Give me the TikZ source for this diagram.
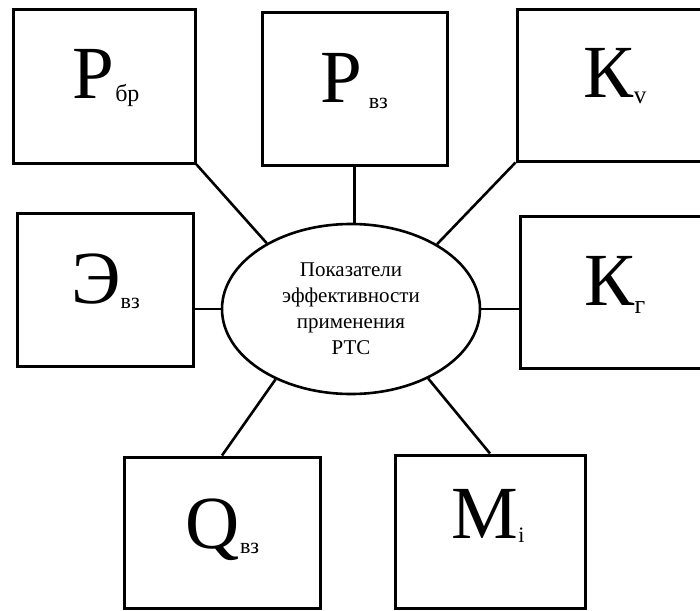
\documentclass[tikz,border=0pt]{standalone}
\usepackage{fontspec}
\setmainfont{Liberation Serif}
\usetikzlibrary{shapes.geometric}

% symbol with a lowered index: #1 symbol, #2 index, #3 index size, #4 drop, #5 gap
\newcommand{\idxsym}[5]{{\fontsize{75}{75}\selectfont #1}\kern#5\raisebox{-#4}{\fontsize{#3}{#3}\selectfont #2}}

\begin{document}
\begin{tikzpicture}[x=1pt,y=-1pt,
  box/.style={draw, line width=3pt, rectangle, inner sep=0pt},
  lbl/.style={inner sep=0pt, anchor=base},
  conn/.style={line width=2.6pt}]
  \useasboundingbox (0,0) rectangle (700,610);
  \clip (0,0) rectangle (700,610);

  % indicator boxes
  \node[box, minimum width=182pt, minimum height=153pt] (b1) at (104,86.5) {};
  \node[box, minimum width=185pt, minimum height=152pt] (b2) at (354.5,89) {};
  \node[box, minimum width=196pt, minimum height=151pt] (b3) at (615,85.5) {};
  \node[box, minimum width=176pt, minimum height=153pt] (b4) at (105,289.5) {};
  \node[box, minimum width=190pt, minimum height=152pt] (b5) at (615,292) {};
  \node[box, minimum width=196pt, minimum height=151pt] (b6) at (222,532.5) {};
  \node[box, minimum width=190pt, minimum height=153pt] (b7) at (490,531.5) {};

  % indicator symbols
  \node[lbl] (t1) at (106,98)   {\idxsym{Р}{бр}{24}{3pt}{1pt}};
  \node[lbl] (t2) at (354,102)  {\idxsym{Р}{вз}{22}{6pt}{7pt}};
  \node[lbl] (t3) at (615,97)   {\idxsym{К}{v}{25}{6pt}{0pt}};
  \node[lbl] (t4) at (105.5,303){\idxsym{Э}{вз}{22}{5pt}{0pt}};
  \node[lbl] (t5) at (615,305)  {\idxsym{К}{г}{26}{8pt}{0pt}};
  \node[lbl] (t6) at (222.5,548){\idxsym{Q}{вз}{22}{5pt}{0pt}};
  \node[lbl] (t7) at (488,538)  {\idxsym{M}{i}{22}{4pt}{0pt}};

  % central ellipse
  \node[draw, ellipse, line width=2.6pt, inner sep=0pt,
        minimum width=258pt, minimum height=170pt, align=center,
        font=\fontsize{21}{26}\selectfont] (e) at (351,309)
        {Показатели\\эффективности\\применения\\РТС};

  % connectors
  \draw[conn] (b1.south east) -- (e.142);
  \draw[conn] (b2.south) -- (b2.south |- e.north);
  \draw[conn] (b3.south west) -- (e.37);
  \draw[conn] (b4.east |- e.west) -- (e.west);
  \draw[conn] (e.east) -- (e.east -| b5.west);
  \draw[conn] (b6.north) -- (e.223);
  \draw[conn] (b7.north) -- (e.318);
\end{tikzpicture}
\end{document}
